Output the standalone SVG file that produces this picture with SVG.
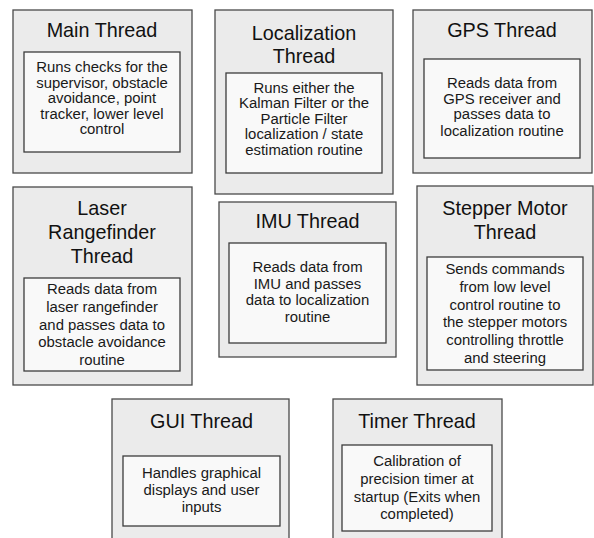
<svg xmlns="http://www.w3.org/2000/svg" width="594" height="538" viewBox="0 0 594 538">
  <style>
    .outer { fill: #ebebeb; stroke: #4a4a4a; stroke-width: 1.3; }
    .inner { fill: #f9f9f9; stroke: #3c3c3c; stroke-width: 1.3; }
    .title { font-family: "Liberation Sans", Arial, sans-serif; font-size: 19.8px; fill: #111; text-anchor: middle; }
    .body { font-family: "Liberation Sans", Arial, sans-serif; font-size: 14.9px; fill: #1a1a1a; text-anchor: middle; }
  </style>
  <rect width="594" height="538" fill="#ffffff"/>

  <g id="main-thread">
    <rect class="outer" x="13" y="10" width="179" height="163"/>
    <rect class="inner" x="24" y="52" width="156" height="100"/>
    <text class="title" x="102" y="37">Main Thread</text>
    <text class="body" x="102" y="72">Runs checks for the</text>
    <text class="body" x="102" y="87.5">supervisor, obstacle</text>
    <text class="body" x="102" y="103">avoidance, point</text>
    <text class="body" x="102" y="118.5">tracker, lower level</text>
    <text class="body" x="102" y="134">control</text>
  </g>

  <g id="localization-thread">
    <rect class="outer" x="215" y="10" width="178" height="184"/>
    <rect class="inner" x="226" y="73" width="156" height="100"/>
    <text class="title" x="304" y="40">Localization</text>
    <text class="title" x="304" y="63">Thread</text>
    <text class="body" x="304" y="92.5">Runs either the</text>
    <text class="body" x="304" y="108">Kalman Filter or the</text>
    <text class="body" x="304" y="123.5">Particle Filter</text>
    <text class="body" x="304" y="139">localization / state</text>
    <text class="body" x="304" y="154.5">estimation routine</text>
  </g>

  <g id="gps-thread">
    <rect class="outer" x="413" y="10" width="179" height="163"/>
    <rect class="inner" x="424" y="59" width="156" height="99"/>
    <text class="title" x="502" y="37">GPS Thread</text>
    <text class="body" x="502" y="88">Reads data from</text>
    <text class="body" x="502" y="103.5">GPS receiver and</text>
    <text class="body" x="502" y="119">passes data to</text>
    <text class="body" x="502" y="136">localization routine</text>
  </g>

  <g id="laser-rangefinder-thread">
    <rect class="outer" x="13" y="187" width="179" height="198"/>
    <rect class="inner" x="24" y="278" width="156" height="93"/>
    <text class="title" x="102" y="215">Laser</text>
    <text class="title" x="102" y="239">Rangefinder</text>
    <text class="title" x="102" y="263">Thread</text>
    <text class="body" x="102" y="294">Reads data from</text>
    <text class="body" x="102" y="312">laser rangefinder</text>
    <text class="body" x="102" y="329.5">and passes data to</text>
    <text class="body" x="102" y="347">obstacle avoidance</text>
    <text class="body" x="102" y="365">routine</text>
  </g>

  <g id="imu-thread">
    <rect class="outer" x="219" y="202" width="177" height="155"/>
    <rect class="inner" x="229" y="243" width="157" height="100"/>
    <text class="title" x="307.5" y="228">IMU Thread</text>
    <text class="body" x="307.5" y="272">Reads data from</text>
    <text class="body" x="307.5" y="288.5">IMU and passes</text>
    <text class="body" x="307.5" y="305">data to localization</text>
    <text class="body" x="307.5" y="321.5">routine</text>
  </g>

  <g id="stepper-motor-thread">
    <rect class="outer" x="417" y="186" width="176" height="199"/>
    <rect class="inner" x="427" y="257" width="156" height="113"/>
    <text class="title" x="505" y="215">Stepper Motor</text>
    <text class="title" x="505" y="239">Thread</text>
    <text class="body" x="505" y="274">Sends commands</text>
    <text class="body" x="505" y="292">from low level</text>
    <text class="body" x="505" y="309.5">control routine to</text>
    <text class="body" x="505" y="327">the stepper motors</text>
    <text class="body" x="505" y="345">controlling throttle</text>
    <text class="body" x="505" y="363">and steering</text>
  </g>

  <g id="gui-thread">
    <rect class="outer" x="112" y="399" width="177" height="150"/>
    <rect class="inner" x="123" y="456" width="157" height="70"/>
    <text class="title" x="201.5" y="428">GUI Thread</text>
    <text class="body" x="201.5" y="478">Handles graphical</text>
    <text class="body" x="201.5" y="495">displays and user</text>
    <text class="body" x="201.5" y="511.5">inputs</text>
  </g>

  <g id="timer-thread">
    <rect class="outer" x="333" y="399" width="169" height="150"/>
    <rect class="inner" x="342" y="445" width="150" height="86"/>
    <text class="title" x="417" y="428">Timer Thread</text>
    <text class="body" x="417" y="466">Calibration of</text>
    <text class="body" x="417" y="484">precision timer at</text>
    <text class="body" x="417" y="502">startup (Exits when</text>
    <text class="body" x="417" y="519">completed)</text>
  </g>

  <g id="connectors"></g>
</svg>
